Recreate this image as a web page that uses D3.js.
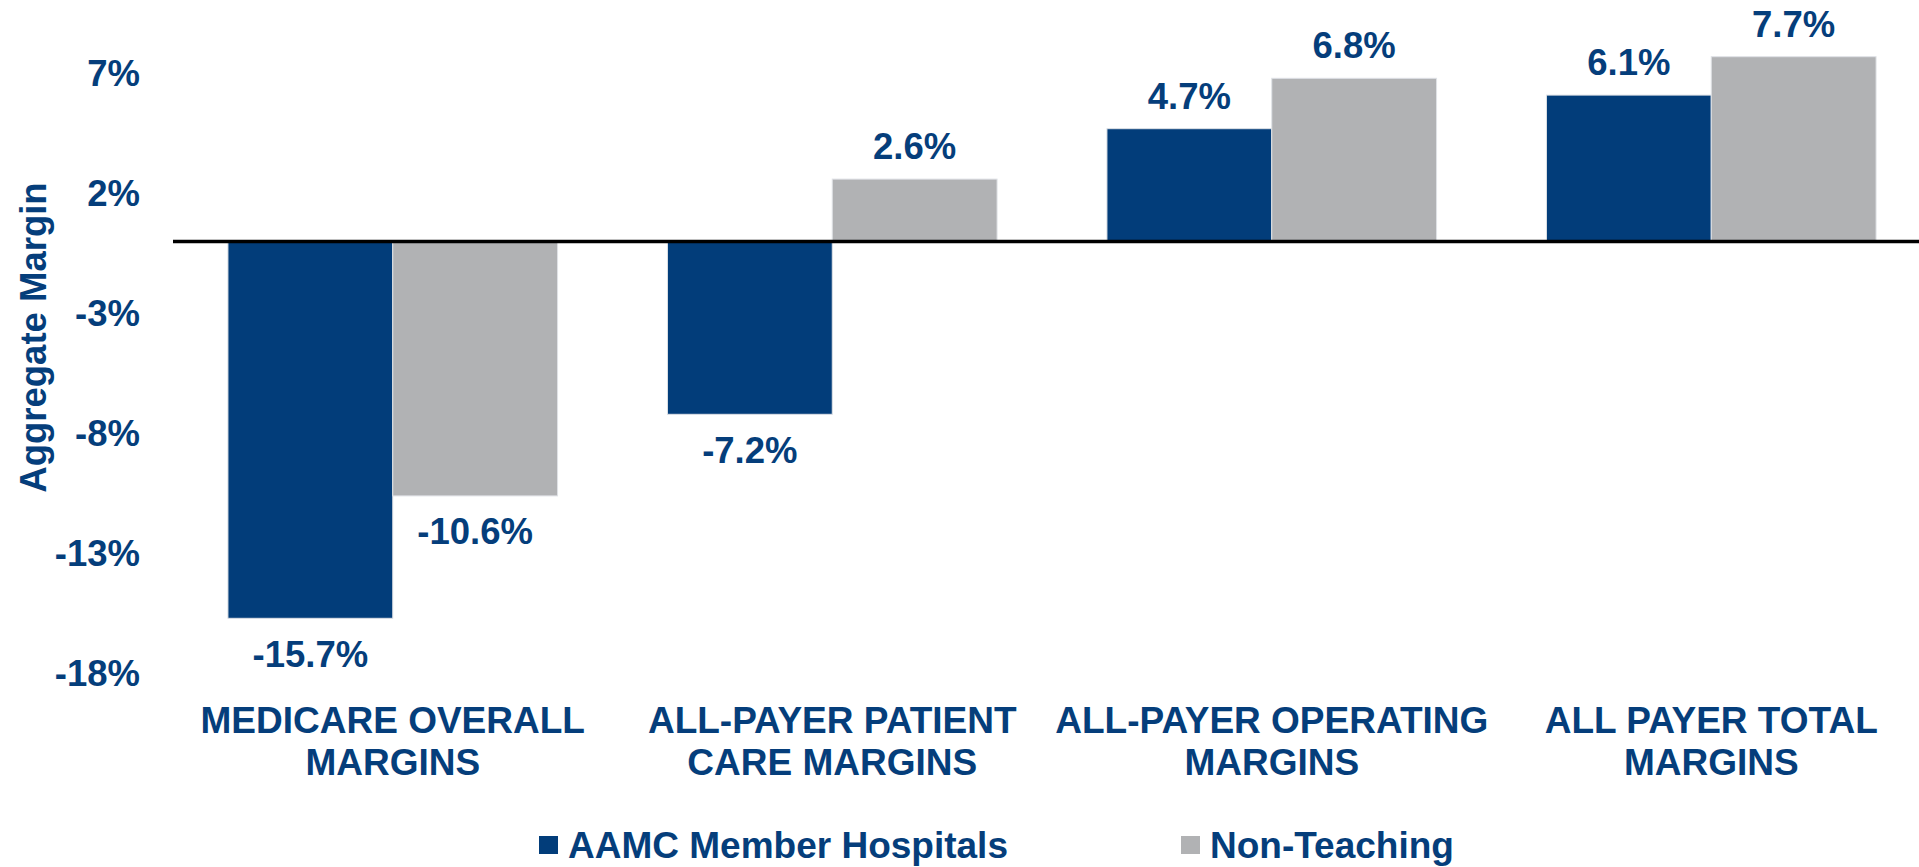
<!DOCTYPE html>
<html>
<head>
<meta charset="utf-8">
<script src="https://cdn.jsdelivr.net/npm/d3@7"></script>
<style>
  html, body { margin: 0; padding: 0; background: #ffffff; }
  svg { display: block; }
  text { font-family: "Liberation Sans", Arial, sans-serif; font-weight: bold; }
</style>
</head>
<body>
<svg id="chart" width="1919" height="867"></svg>
<script>
// ---------- data ----------
const categories = ["MEDICARE OVERALL MARGINS", "ALL-PAYER PATIENT CARE MARGINS", "ALL-PAYER OPERATING MARGINS", "ALL PAYER TOTAL MARGINS"];
const categoryLines = [["MEDICARE OVERALL", "MARGINS"], ["ALL-PAYER PATIENT", "CARE MARGINS"], ["ALL-PAYER OPERATING", "MARGINS"], ["ALL PAYER TOTAL", "MARGINS"]];
const seriesNames = ["AAMC Member Hospitals", "Non-Teaching"];
const aamcValues = [-15.7, -7.2, 4.7, 6.1];
const nonTeachingValues = [-10.6, 2.6, 6.8, 7.7];
const tickValues = [-18, -13, -8, -3, 2, 7];
const tickLabels = ["-18%", "-13%", "-8%", "-3%", "2%", "7%"];
const yTitle = "Aggregate Margin";

// ---------- style ----------
const NAVY = "#023d7a";
const GRAY = "#b1b2b4";
const TEXT = "#053e7b";
const colors = [NAVY, GRAY];

const svg = d3.select("#chart");

const x0 = d3.scaleBand().domain(categories).range([173, 1931]).paddingInner(0.25).paddingOuter(0.125);
const x1 = d3.scaleBand().domain(seriesNames).range([0, x0.bandwidth()]).padding(0);
const y = d3.scaleLinear().domain([-18, 7]).range([673.5, 73.5]);

const seriesValues = [aamcValues, nonTeachingValues];
const rows = [];
categories.forEach((c, i) => {
  seriesNames.forEach((s, j) => rows.push({ cat: c, series: s, value: seriesValues[j][i], color: colors[j] }));
});

// bars
svg.append("g").selectAll("rect").data(rows).join("rect")
  .attr("x", d => x0(d.cat) + x1(d.series))
  .attr("width", x1.bandwidth())
  .attr("y", d => Math.min(y(d.value), y(0)))
  .attr("height", d => Math.abs(y(d.value) - y(0)))
  .attr("fill", d => d.color)
  .attr("stroke", "#dfe2e6")
  .attr("stroke-width", 1);

// zero line
svg.append("line")
  .attr("x1", 173).attr("x2", 1919)
  .attr("y1", y(0)).attr("y2", y(0))
  .attr("stroke", "#000").attr("stroke-width", 3.5);

// value labels
svg.append("g").selectAll("text").data(rows).join("text")
  .attr("x", d => x0(d.cat) + x1(d.series) + x1.bandwidth() / 2)
  .attr("y", d => d.value >= 0 ? y(d.value) - 20 : y(d.value) + 48.5)
  .attr("text-anchor", "middle")
  .attr("font-size", 36.5)
  .attr("fill", TEXT)
  .text(d => d.value.toFixed(1) + "%");

// y axis tick labels
const yAxis = d3.axisLeft(y).tickValues(tickValues).tickFormat((d, i) => tickLabels[i]).tickSize(0).tickPadding(0);
const gy = svg.append("g").attr("transform", "translate(140,0)").call(yAxis);
gy.select(".domain").remove();
gy.selectAll("text")
  .attr("font-size", 36.5)
  .attr("fill", TEXT)
  .attr("font-family", "'Liberation Sans', Arial, sans-serif")
  .attr("font-weight", "bold")
  .attr("dy", "0.34em");

// y title
svg.append("text")
  .attr("transform", "translate(46," + 337.5 + ") rotate(-90)")
  .attr("text-anchor", "middle")
  .attr("font-size", 36.5)
  .attr("fill", TEXT)
  .text(yTitle);

// category labels
const catG = svg.append("g").selectAll("text").data(categories).join("text")
  .attr("x", d => x0(d) + x0.bandwidth() / 2)
  .attr("y", 732.5)
  .attr("text-anchor", "middle")
  .attr("font-size", 37)
  .attr("fill", TEXT);
catG.selectAll("tspan").data((d, i) => categoryLines[i]).join("tspan")
  .attr("x", function () { return d3.select(this.parentNode).attr("x"); })
  .attr("dy", (d, i) => i === 0 ? 0 : 42.5)
  .text(d => d);

// legend
const legendX = [539, 1181];
const leg = svg.append("g").selectAll("g").data(seriesNames).join("g")
  .attr("transform", (d, i) => "translate(" + legendX[i] + ",0)");
leg.append("rect")
  .attr("x", 0).attr("y", 836).attr("width", 19).attr("height", 18)
  .attr("fill", (d, i) => colors[i]);
leg.append("text")
  .attr("x", 29).attr("y", 858)
  .attr("font-size", 37)
  .attr("fill", TEXT)
  .text(d => d);
</script>
</body>
</html>
